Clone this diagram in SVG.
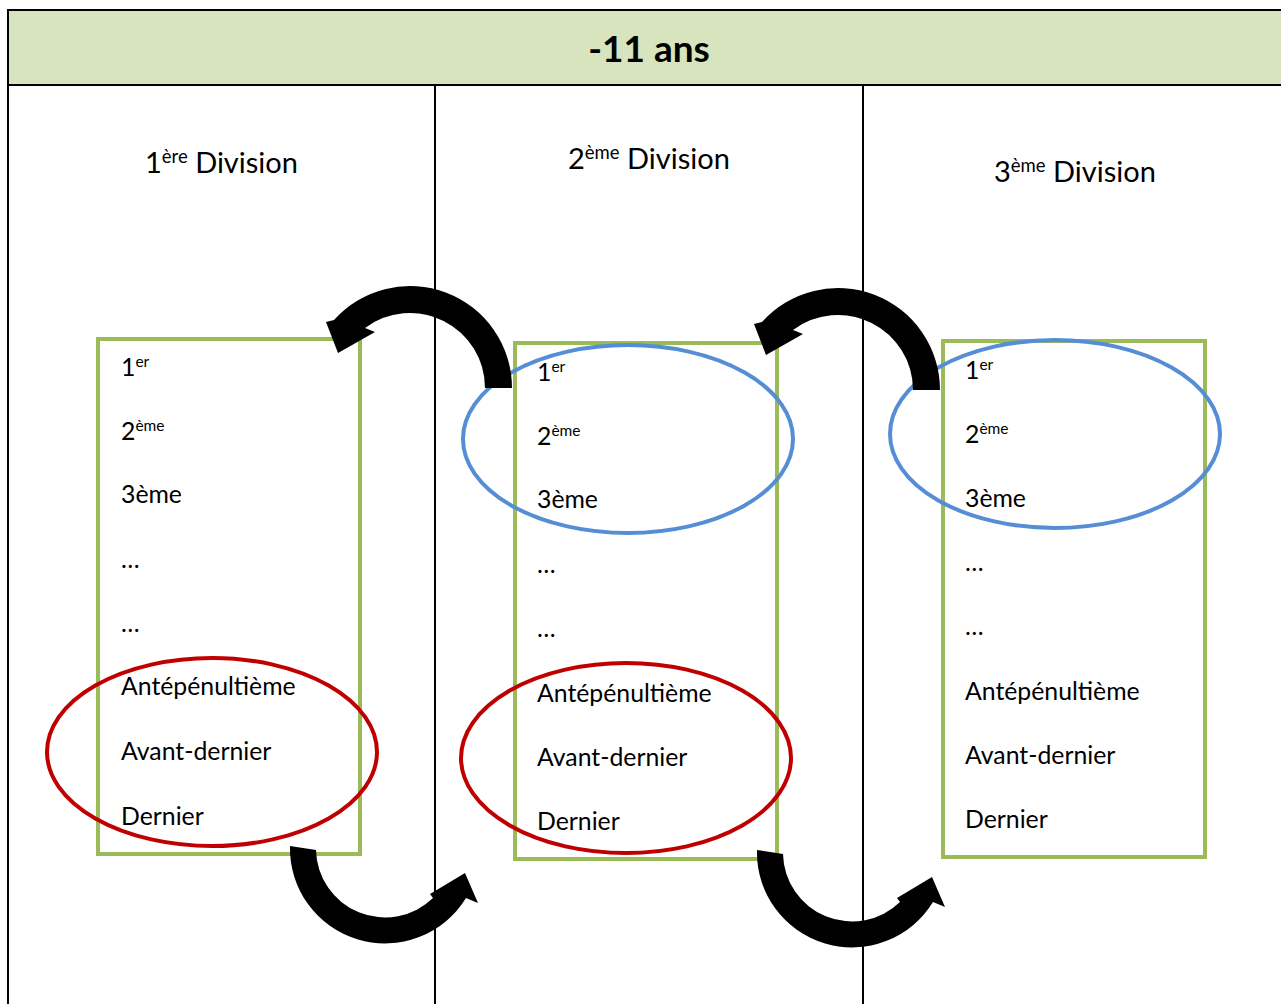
<svg xmlns="http://www.w3.org/2000/svg" width="1281" height="1004" viewBox="0 0 1281 1004">
<style>
.grid{stroke:#000;stroke-width:2;fill:none}
.box{fill:none;stroke:#9bbb59;stroke-width:4}
.red{fill:none;stroke:#c00000;stroke-width:4}
.blue{fill:none;stroke:#558ed5;stroke-width:4}
.t{font-family:Lato,"Liberation Sans",sans-serif;font-size:24.8px;fill:#000}
.h{font-family:Lato,"Liberation Sans",sans-serif;font-size:29px;fill:#000}
.title{font-family:Lato,"Liberation Sans",sans-serif;font-size:37px;font-weight:bold;fill:#000}
.sup{font-size:15.5px}
.hsup{font-size:18.5px}
.arrow{fill:#000}
</style>
<defs>
<path id="arcUp" class="arrow" d="M512,388 A102,102 0 0 0 334,320 L326,322 L338,353 L375,332 L365,328 A75,75 0 0 1 485,388 Z"/>
<path id="arcDown" class="arrow" d="M290,846 A95,95 0 0 0 466,898 L478,903 L465,873 L430,894 L433,898 A69,69 0 0 1 316,850 Z"/>
</defs>
<rect width="1281" height="1004" fill="#fff"/>
<g id="table">
<rect x="8" y="10" width="1280" height="75" fill="#d7e4bd" stroke="none"/>
<path class="grid" d="M8,1010 V10 H1290 M8,85 H1290 M435,85 V1010 M863,85 V1010"/>
<text class="title" x="649" y="62" text-anchor="middle">-11 ans</text>
</g>
<g id="header1"><text class="h" x="145" y="173">1<tspan class="hsup" dy="-10">ère</tspan><tspan dy="10"> Division</tspan></text></g>
<g id="header2"><text class="h" x="568" y="169">2<tspan class="hsup" dy="-10">ème</tspan><tspan dy="10"> Division</tspan></text></g>
<g id="header3"><text class="h" x="994" y="182">3<tspan class="hsup" dy="-10">ème</tspan><tspan dy="10"> Division</tspan></text></g>

<g id="division1">
<rect class="box" x="98" y="339" width="262" height="515"/>
<text class="t" x="121" y="376">1<tspan class="sup" dy="-9">er</tspan></text>
<text class="t" x="121" y="440">2<tspan class="sup" dy="-9">ème</tspan></text>
<text class="t" x="121" y="503">3ème</text>
<text class="t" x="121" y="568">…</text>
<text class="t" x="121" y="632">…</text>
<text class="t" x="121" y="695">Antépénultième</text>
<text class="t" x="121" y="760">Avant-dernier</text>
<text class="t" x="121" y="825">Dernier</text>
<ellipse class="red" cx="212" cy="752" rx="165" ry="94"/>
</g>

<g id="division2">
<rect class="box" x="515" y="343" width="262" height="516"/>
<text class="t" x="537" y="381">1<tspan class="sup" dy="-9">er</tspan></text>
<text class="t" x="537" y="445">2<tspan class="sup" dy="-9">ème</tspan></text>
<text class="t" x="537" y="508">3ème</text>
<text class="t" x="537" y="573">…</text>
<text class="t" x="537" y="637">…</text>
<text class="t" x="537" y="702">Antépénultième</text>
<text class="t" x="537" y="766">Avant-dernier</text>
<text class="t" x="537" y="830">Dernier</text>
<ellipse class="blue" cx="628" cy="439" rx="165" ry="94"/>
<ellipse class="red" cx="626" cy="758" rx="165" ry="95"/>
</g>

<g id="division3">
<rect class="box" x="943" y="341" width="262" height="516"/>
<text class="t" x="965" y="379">1<tspan class="sup" dy="-9">er</tspan></text>
<text class="t" x="965" y="443">2<tspan class="sup" dy="-9">ème</tspan></text>
<text class="t" x="965" y="507">3ème</text>
<text class="t" x="965" y="571">…</text>
<text class="t" x="965" y="635">…</text>
<text class="t" x="965" y="700">Antépénultième</text>
<text class="t" x="965" y="764">Avant-dernier</text>
<text class="t" x="965" y="828">Dernier</text>
<ellipse class="blue" cx="1055" cy="434" rx="165" ry="94"/>
</g>

<g id="connectors">
<use href="#arcUp"/>
<use href="#arcUp" transform="translate(428,2)"/>
<use href="#arcDown"/>
<use href="#arcDown" transform="translate(467,4)"/>
</g>
</svg>
